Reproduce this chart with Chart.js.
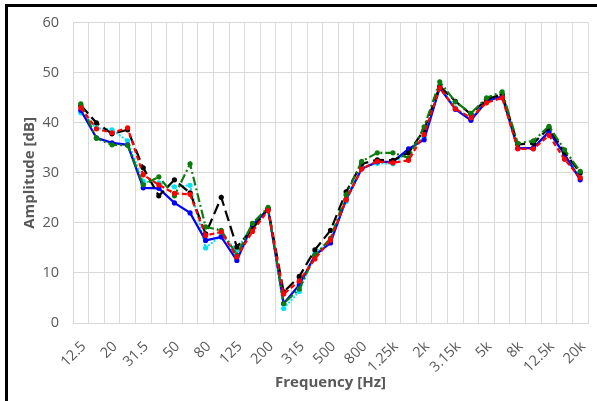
<!DOCTYPE html>
<html>
<head>
<meta charset="utf-8">
<script src="https://cdn.jsdelivr.net/npm/chart.js@4"></script>
<style>
  body { margin: 0; background: #fff; }
  #wrap { position: relative; width: 597px; height: 401px; overflow: hidden; }
  #frame { position: absolute; left: 5px; top: 4px; width: 700px; height: 500px;
           border-left: 3px solid #000; border-top: 3px solid #000; pointer-events: none; }
</style>
</head>
<body>
<div id="wrap">
  <canvas id="chart" width="597" height="401"></canvas>
  <div id="frame"></div>
</div>
<script>
// 1/3 octave bands
const frequencies = ['12.5', '16', '20', '25', '31.5', '40', '50', '63', '80', '100', '125', '160',
  '200', '250', '315', '400', '500', '630', '800', '1k', '1.25k', '1.6k', '2k', '2.5k',
  '3.15k', '4k', '5k', '6.3k', '8k', '10k', '12.5k', '16k', '20k'];

const blackSeries = [43.5, 40, 37.8, 38.6, 31, 25.4, 28.6, 26, 17.8, 25.1, 15.2, 18.8,
  22.9, 6.2, 9.3, 14.6, 18.5, 26.2, 31.8, 32.6, 32.5, 34, 38.6, 47.3,
  44.3, 41.7, 44.7, 45.7, 35.7, 35.9, 39, 34.1, 30];
const blueSeries = [42.5, 37, 36, 35.6, 27, 26.9, 24, 22, 16.5, 17.2, 12.5, 19.6,
  22.7, 3.9, 7.6, 13.5, 16, 24.7, 30.8, 32.2, 32.2, 34.8, 36.6, 47,
  42.7, 40.5, 44.3, 45.3, 34.9, 35, 38.2, 33.7, 28.6];
const redSeries = [43, 38.8, 38, 39, 29.6, 27.6, 25.9, 25.7, 17.5, 18.2, 13.2, 18.3,
  22.5, 5.8, 8.4, 12.8, 16.6, 24.6, 30.8, 32.3, 32, 32.5, 37.7, 47,
  42.8, 41, 44, 45, 34.8, 34.8, 37.5, 32.7, 29];
const greenSeries = [43.8, 36.9, 35.6, 35.5, 27.6, 29.2, 25.4, 31.8, 19.2, 18.5, 13.6, 19.9,
  23.1, 3.9, 6.8, 13.5, 16.9, 25.6, 32.3, 34, 34, 33, 39.2, 48.2,
  44.2, 41.9, 45, 46.2, 35.9, 36.4, 39.3, 34.6, 30.3];
const cyanSeries = [42, 39, 38.6, 36.4, 28.3, 28, 27.2, 27.5, 15, 17.5, 14.6, 19.7,
  22.8, 2.9, 6.3, 13.8, 16.6, 24.3, 31, 31.9, 31.8, 34.3, 37.1, 47.1,
  43, 40.8, 44.2, 45.2, 35, 34.8, 38.4, 33.5, 29.2];

const yTicks = [0, 10, 20, 30, 40, 50, 60];

const textColor = '#595959';
const gridColor = '#d9d9d9';

function series(data, color, dash, cap) {
  return {
    data: data,
    borderColor: color,
    backgroundColor: color,
    borderWidth: 2.2,
    borderDash: dash,
    borderCapStyle: cap || 'butt',
    pointRadius: 2.6,
    pointBorderWidth: 0,
    pointBackgroundColor: color,
    tension: 0,
    fill: false
  };
}

new Chart(document.getElementById('chart'), {
  type: 'line',
  data: {
    labels: frequencies,
    datasets: [
      series(redSeries, '#ff0000', [5, 3]),
      series(greenSeries, '#0a7d0a', [9, 3, 2, 3]),
      series(blackSeries, '#000000', [11, 5]),
      series(blueSeries, '#0000ff', []),
      series(cyanSeries, '#00e5f5', [0.1, 3.5], 'round')
    ]
  },
  options: {
    responsive: false,
    animation: false,
    layout: { padding: { top: 22, right: 9, left: 0, bottom: 0 } },
    plugins: {
      legend: { display: false },
      tooltip: { enabled: false }
    },
    scales: {
      x: {
        offset: true,
        grid: { offset: true, color: gridColor, lineWidth: 1, drawTicks: false },
        border: { color: gridColor },
        afterFit: scale => {
          scale.height = 78;
          scale.paddingLeft = 0;
          scale.paddingRight = 0;
        },
        ticks: {
          autoSkip: false,
          maxRotation: 45,
          minRotation: 45,
          padding: 15,
          labelOffset: 3,
          color: textColor,
          font: { family: 'Open Sans', size: 14.5 },
          callback: function (value, index) {
            return index % 2 === 0 ? this.getLabelForValue(value) : '';
          }
        },
        title: {
          display: true,
          text: 'Frequency [Hz]',
          color: textColor,
          font: { family: 'Open Sans', size: 15, weight: 'bold' },
          padding: { top: 0, bottom: 9 }
        }
      },
      y: {
        min: yTicks[0],
        max: yTicks[yTicks.length - 1],
        afterBuildTicks: scale => { scale.ticks = yTicks.map(v => ({ value: v })); },
        grid: { color: gridColor, lineWidth: 1, drawTicks: false },
        border: { display: false },
        afterFit: scale => { scale.width = 73; },
        ticks: {
          padding: 14,
          color: textColor,
          font: { family: 'Open Sans', size: 14.5 }
        },
        title: {
          display: true,
          text: 'Amplitude [dB]',
          color: textColor,
          font: { family: 'Open Sans', size: 15, weight: 'bold' },
          padding: { top: 21, bottom: 0 }
        }
      }
    }
  }
});
</script>
</body>
</html>
